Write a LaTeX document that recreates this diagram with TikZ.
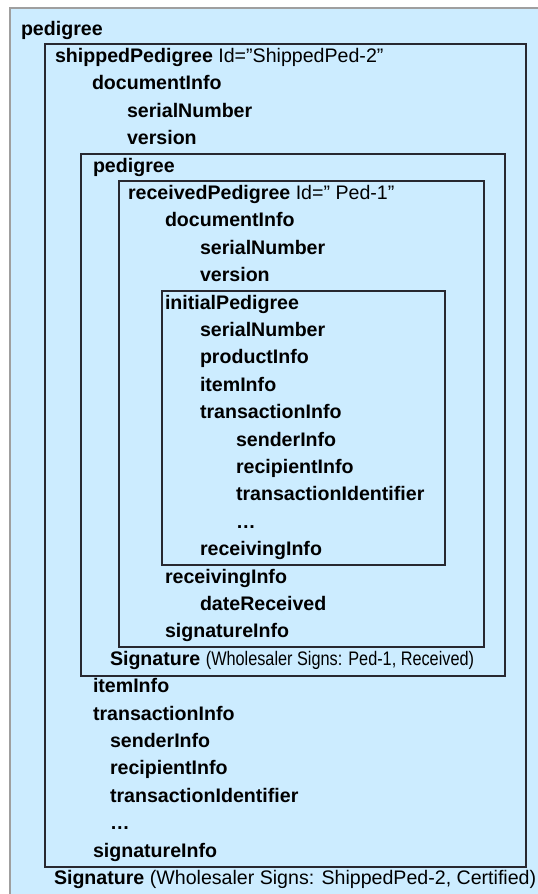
\documentclass[tikz,border=0pt]{standalone}
\usepackage{fontspec}
\setmainfont{Liberation Sans}
\newfontfamily\narrowfont[FakeStretch=0.83]{Liberation Sans}
\definecolor{boxfill}{RGB}{204,236,255}
\definecolor{boxline}{RGB}{40,40,48}
\tikzset{
  box/.style={draw=boxline, line width=1.4pt, fill=boxfill},
  outerbox/.style={draw=gray!75, line width=1.2pt, fill=boxfill},
  lbl/.style={anchor=base west, inner sep=0pt, outer sep=0pt, font=\fontsize{19.6}{24}\selectfont\bfseries},
}
\begin{document}
\begin{tikzpicture}[x=1pt,y=-1pt]
\useasboundingbox (0,0) rectangle (538,894);
\clip (0,0) rectangle (538,894);
\fill[white] (0,0) rectangle (538,894);
\draw[outerbox] (10,8) rectangle (570,930);
\draw[box] (45,44) rectangle (526,867);
\draw[box] (81,154) rectangle (505,676);
\draw[box] (119,181) rectangle (484,647);
\draw[box] (162,291) rectangle (445,565);
\def\rowy#1{35+27.4*#1}
\node[lbl] (r0) at (21,{\rowy{0}}) {pedigree};
\node[lbl] (r1) at (55,{\rowy{1}}) {shippedPedigree \mdseries Id=”ShippedPed-2”};
\node[lbl] (r2) at (92,{\rowy{2}}) {documentInfo};
\node[lbl] (r3) at (127,{\rowy{3}}) {serialNumber};
\node[lbl] (r4) at (127,{\rowy{4}}) {version};
\node[lbl] (r5) at (93,{\rowy{5}}) {pedigree};
\node[lbl] (r6) at (128,{\rowy{6}}) {receivedPedigree \mdseries Id=” Ped-1”};
\node[lbl] (r7) at (165,{\rowy{7}}) {documentInfo};
\node[lbl] (r8) at (200,{\rowy{8}}) {serialNumber};
\node[lbl] (r9) at (200,{\rowy{9}}) {version};
\node[lbl] (r10) at (165,{\rowy{10}}) {initialPedigree};
\node[lbl] (r11) at (200,{\rowy{11}}) {serialNumber};
\node[lbl] (r12) at (200,{\rowy{12}}) {productInfo};
\node[lbl] (r13) at (200,{\rowy{13}}) {itemInfo};
\node[lbl] (r14) at (200,{\rowy{14}}) {transactionInfo};
\node[lbl] (r15) at (236,{\rowy{15}}) {senderInfo};
\node[lbl] (r16) at (236,{\rowy{16}}) {recipientInfo};
\node[lbl] (r17) at (236,{\rowy{17}}) {transactionIdentifier};
\node[lbl] (r18) at (236,{\rowy{18}}) {…};
\node[lbl] (r19) at (200,{\rowy{19}}) {receivingInfo};
\node[lbl] (r20) at (165,{\rowy{20}}) {receivingInfo};
\node[lbl] (r21) at (200,{\rowy{21}}) {dateReceived};
\node[lbl] (r22) at (165,{\rowy{22}}) {signatureInfo};
\node[lbl] (r23) at (110,{\rowy{23}}) {Signature {\mdseries\narrowfont (Wholesaler Signs: Ped-1, Received)}};
\node[lbl] (r24) at (93,{\rowy{24}}) {itemInfo};
\node[lbl] (r25) at (93,{\rowy{25}}) {transactionInfo};
\node[lbl] (r26) at (110,{\rowy{26}}) {senderInfo};
\node[lbl] (r27) at (110,{\rowy{27}}) {recipientInfo};
\node[lbl] (r28) at (110,{\rowy{28}}) {transactionIdentifier};
\node[lbl] (r29) at (110,{\rowy{29}}) {…};
\node[lbl] (r30) at (93,{\rowy{30}}) {signatureInfo};
\node[lbl] (r31) at (54,{\rowy{31}}) {Signature \mdseries(Wholesaler Signs: ShippedPed-2, Certified)};
\end{tikzpicture}
\end{document}
